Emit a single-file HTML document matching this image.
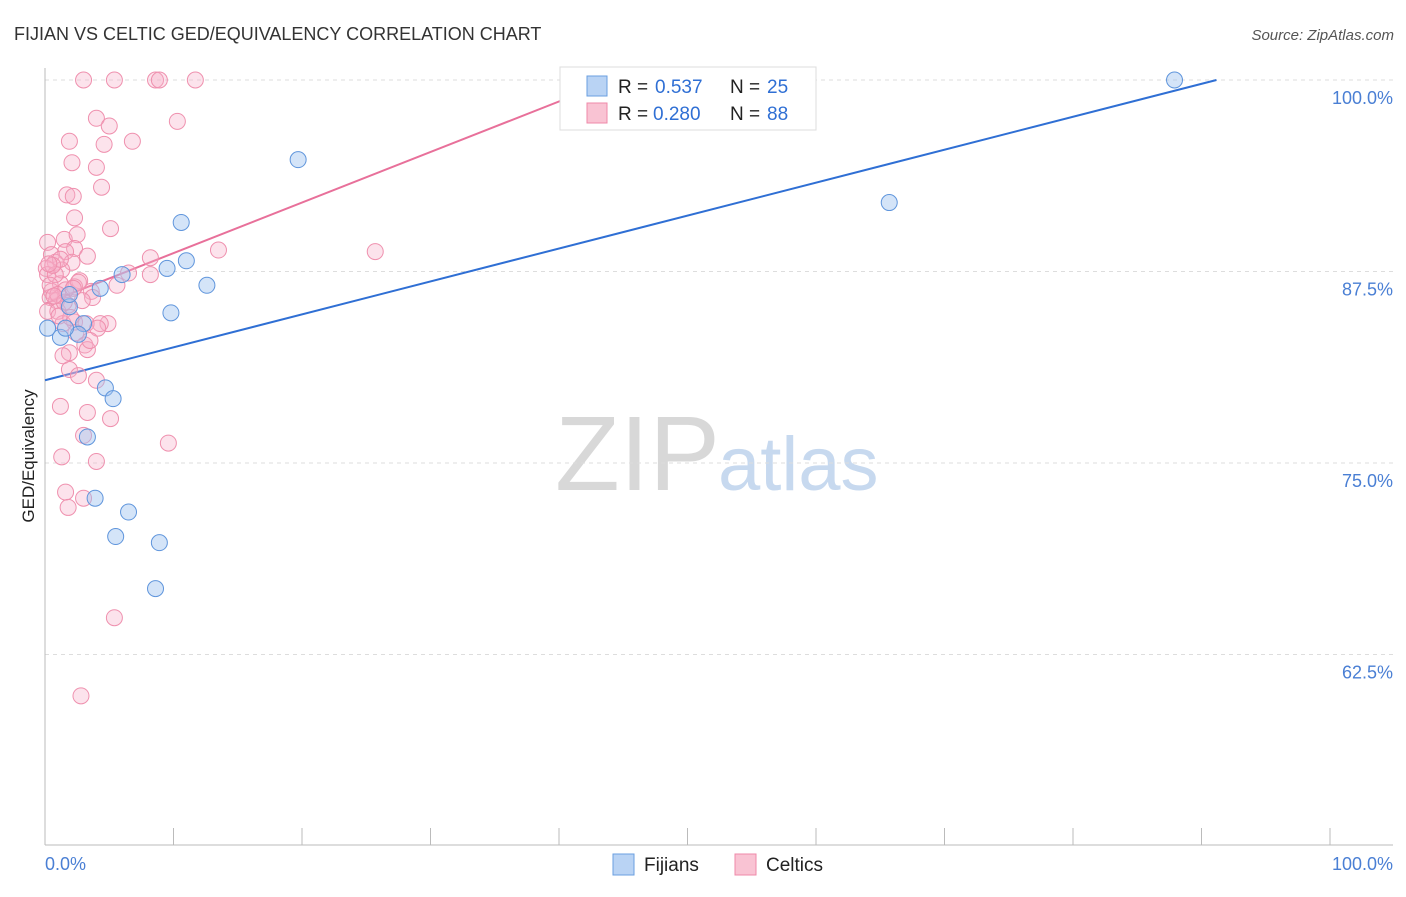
<!DOCTYPE html>
<html><head><meta charset="utf-8"><style>
body{margin:0;background:#fff;font-family:"Liberation Sans",sans-serif}
svg text{font-family:"Liberation Sans",sans-serif}
</style></head><body>
<svg id="chart" width="1406" height="892" xmlns="http://www.w3.org/2000/svg">
<text x="14" y="40" font-size="18" fill="#333">FIJIAN VS CELTIC GED/EQUIVALENCY CORRELATION CHART</text>
<text x="1394" y="40" font-size="15" fill="#555" font-style="italic" text-anchor="end">Source: ZipAtlas.com</text>
<text x="555" y="490" font-size="106" fill="#d8d8d8" font-family="Liberation Serif">ZIP</text>
<text x="718" y="490" font-size="76" fill="#c7d9ef">atlas</text>
<g id="grid"></g><g id="axes"></g><g id="lines"></g><g id="pts"></g>
<text transform="translate(34,456) rotate(-90)" text-anchor="middle" font-size="17" fill="#222">GED/Equivalency</text>
<text x="45" y="870" font-size="18" fill="#4a7fd4">0.0%</text>
<text x="1393" y="870" font-size="18" fill="#4a7fd4" text-anchor="end">100.0%</text>
<g>
<rect x="560" y="67" width="256" height="63" fill="#fff" stroke="#ddd"/>
<rect x="587" y="76" width="20" height="20" fill="#b9d3f4" stroke="#6a9fe0"/>
<text x="618" y="93" font-size="19" fill="#222">R = </text>
<text x="655" y="93" font-size="19" fill="#2f6fd4">0.537</text>
<text x="730" y="93" font-size="19" fill="#222">N = </text>
<text x="767" y="93" font-size="19" fill="#2f6fd4">25</text>
<rect x="587" y="103" width="20" height="20" fill="#f9c3d3" stroke="#ef88a8"/>
<text x="618" y="120" font-size="19" fill="#222">R = </text>
<text x="653" y="120" font-size="19" fill="#2f6fd4">0.280</text>
<text x="730" y="120" font-size="19" fill="#222">N = </text>
<text x="767" y="120" font-size="19" fill="#2f6fd4">88</text>
</g>
<g><rect x="613" y="854" width="21" height="21" fill="#b9d3f4" stroke="#6a9fe0"/><text x="644" y="871" font-size="19" fill="#222">Fijians</text></g>
<g><rect x="735" y="854" width="21" height="21" fill="#f9c3d3" stroke="#ef88a8"/><text x="766" y="871" font-size="19" fill="#222">Celtics</text></g>
</svg>
<script>
const yTicks=[100,87.5,75,62.5];
const yTickLabels=["100.0%","87.5%","75.0%","62.5%"];
const fijianX=[87.9,19.7,65.7,10.6,11.0,9.5,6.0,4.3,12.6,9.8,1.9,1.2,3.0,2.6,0.2,4.7,5.3,3.3,3.9,6.5,5.5,8.9,8.6,1.6,1.9];
const fijianY=[100,94.8,92.0,90.7,88.2,87.7,87.3,86.4,86.6,84.8,85.2,83.2,84.1,83.4,83.8,79.9,79.2,76.7,72.7,71.8,70.2,69.8,66.8,83.8,86.0];
const celticX=[3.0,5.4,8.6,8.9,11.7,4.0,10.3,5.0,1.9,6.8,4.6,2.1,4.0,4.4,1.7,2.2,2.3,5.1,1.5,2.5,0.2,2.3,1.6,0.5,8.2,13.5,25.7,3.3,0.8,2.1,0.1,1.3,0.2,6.5,8.2,2.7,1.2,2.3,3.6,5.6,0.5,0.4,0.9,3.7,1.8,0.2,1.0,2.3,1.4,4.9,4.3,3.2,4.1,2.4,3.1,1.9,1.4,3.3,1.9,2.6,4.0,1.2,3.3,5.1,3.0,9.6,1.3,4.0,1.6,3.0,1.8,5.4,2.8,0.8,0.4,1.2,1.6,2.9,0.6,1.0,2.0,0.3,1.5,2.6,3.5,0.7,1.1,2.2];
const celticY=[100,100,100,100,100,97.5,97.3,97.0,96.0,96.0,95.8,94.6,94.3,93.0,92.5,92.4,91.0,90.3,89.6,89.9,89.4,89.0,88.8,88.6,88.4,88.9,88.8,88.5,88.1,88.1,87.7,87.6,87.3,87.4,87.3,86.9,86.7,86.5,86.2,86.6,86.2,85.8,85.6,85.8,85.3,84.9,84.9,84.2,84.1,84.1,84.1,84.1,83.8,83.5,82.7,82.2,82.0,82.4,81.1,80.7,80.4,78.7,78.3,77.9,76.8,76.3,75.4,75.1,73.1,72.7,72.1,64.9,59.8,87.3,86.6,88.3,86.3,85.6,87.9,86.0,84.5,88.0,85.5,86.8,83.0,85.9,84.6,86.4];
const fijianLine=[80.4,101.9];
const celticLine=[85.4,0.33];
const NS="http://www.w3.org/2000/svg";
const xs=v=>45+v*12.85, ys=v=>80+(100-v)*15.32;
function mk(t,a,p){const e=document.createElementNS(NS,t);for(const k in a)e.setAttribute(k,a[k]);document.getElementById(p).appendChild(e);return e;}
yTicks.forEach((t,i)=>{
const g=mk('line',{x1:45,x2:1393,y1:ys(t),y2:ys(t),stroke:'#ddd','stroke-dasharray':'4,4'},'grid');


const l=mk('text',{x:1393,y:ys(t)+24,'font-size':18,fill:'#4a7fd4','text-anchor':'end'},'axes');
l.textContent=yTickLabels[i];


});
const ya=mk('line',{x1:45,x2:45,y1:68,y2:845,stroke:'#bbb'},'axes');


const xa=mk('line',{x1:45,x2:1393,y1:845,y2:845,stroke:'#bbb'},'axes');


for(let i=1;i<=10;i++){const t=mk('line',{x1:xs(i*10),x2:xs(i*10),y1:828,y2:845,stroke:'#bbb'},'axes');

}
{const y0=fijianLine[0],y1=fijianLine[1];const xe=(100-y0)/(y1-y0)*100;
const l=mk('line',{x1:xs(0),y1:ys(y0),x2:xs(xe),y2:ys(100),stroke:'#2f6fd4','stroke-width':2},'lines');

}
{const y0=celticLine[0],s=celticLine[1];const xe=(100-y0)/s;
const l=mk('line',{x1:xs(0),y1:ys(y0),x2:xs(xe),y2:ys(100),stroke:'#e8709a','stroke-width':2},'lines');

}
celticX.forEach((x,i)=>{const c=mk('circle',{cx:xs(x),cy:ys(celticY[i]),r:8,fill:'rgba(247,176,200,0.35)',stroke:'#ef90ae','stroke-width':1},'pts');

});
fijianX.forEach((x,i)=>{const c=mk('circle',{cx:xs(x),cy:ys(fijianY[i]),r:8,fill:'rgba(160,195,240,0.45)',stroke:'#5f95dc','stroke-width':1},'pts');

});
</script>
</body></html>
